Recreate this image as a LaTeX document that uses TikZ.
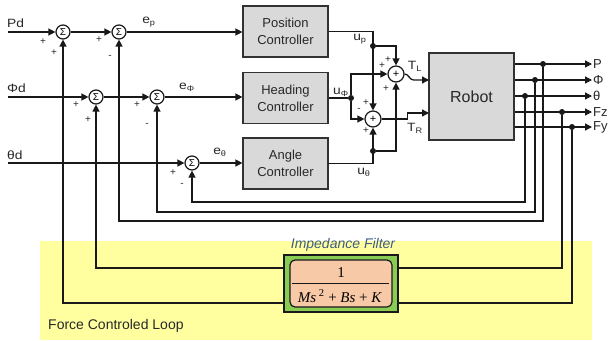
\documentclass[tikz,border=0pt]{standalone}
\usepackage{fontspec}
\setmainfont{Liberation Sans}
\newfontfamily\serifff{Liberation Serif}
\usetikzlibrary{arrows.meta,calc}
\definecolor{linec}{RGB}{25,25,25}
\definecolor{boxb}{RGB}{50,50,50}
\definecolor{boxf}{RGB}{217,217,217}
\definecolor{txt}{RGB}{40,40,40}
\definecolor{ylw}{RGB}{255,255,160}
\definecolor{grn}{RGB}{136,204,84}
\definecolor{org}{RGB}{248,201,166}
\definecolor{blu}{RGB}{62,92,132}
\newcommand\widetxt[1]{\scalebox{1.15}[1]{#1}}
\begin{document}
\begin{tikzpicture}[x=1pt,y=-1pt,
  line/.style={draw=linec,line width=1.3pt},
  arr/.style={line,-{Triangle[length=7pt,width=7pt]}},
  sum/.style={circle,draw=linec,line width=1.2pt,fill=white,minimum size=14pt,inner sep=0pt,font=\fontsize{10}{10}\selectfont},
  ctrl/.style={draw=boxb,line width=1.2pt,fill=boxf,minimum width=85pt,minimum height=51pt,align=center,font=\fontsize{13}{17}\selectfont,text=txt},
  sg/.style={font=\fontsize{10}{10}\selectfont,inner sep=0pt,text=txt},
  lbl/.style={font=\fontsize{12}{12}\selectfont,inner sep=0pt,text=txt},
  dot/.style={circle,fill=linec,minimum size=6pt,inner sep=0pt},
]
\fill[white] (0,0) rectangle (610,340);
\useasboundingbox (0,0) rectangle (610,340);
\fill[ylw] (40,241) rectangle (592,340);

% sums
\node[sum] (s1) at (63,32) {Σ};
\node[sum] (s2) at (119,32) {Σ};
\node[sum] (s3) at (96,97) {Σ};
\node[sum] (s4) at (157,97) {Σ};
\node[sum] (s5) at (192,163) {Σ};
\node[sum,minimum size=16pt,font=\fontsize{11}{11}\selectfont] (s6) at (396,74) {+};
\node[sum,minimum size=16pt,font=\fontsize{11}{11}\selectfont] (s7) at (373,119) {+};

% blocks
\node[ctrl] (pc) at (285.5,31.5) {Position\\Controller};
\node[ctrl] (hc) at (285.5,98) {Heading\\Controller};
\node[ctrl] (ac) at (285.5,163.5) {Angle\\Controller};
\node[draw=boxb,fill=boxf,line width=1.2pt,minimum width=85pt,minimum height=87pt,font=\fontsize{16}{16}\selectfont,text=txt] (rb) at (471.5,96.5) {Robot};

% input coordinates
\coordinate (iP) at (8,32);
\coordinate (iF) at (8,97);
\coordinate (iT) at (8,163);
\node[lbl,anchor=west] (lPd) at (7,23) {\widetxt{Pd}};
\node[lbl,anchor=west] (lFd) at (7,88) {\widetxt{Φd}};
\node[lbl,anchor=west] (lTd) at (7,155) {\widetxt{θd}};

% forward paths
\draw[arr] (iP) -- (s1.west);
\draw[arr] (s1.east) -- (s2.west);
\draw[arr] (s2.east) -- (s2 -| pc.west);
\draw[arr] (iF) -- (s3.west);
\draw[arr] (s3.east) -- (s4.west);
\draw[arr] (s4.east) -- (s4 -| hc.west);
\draw[arr] (iT) -- (s5.west);
\draw[arr] (s5.east) -- (s5 -| ac.west);

\node[lbl] (ep) at (149,22) {\widetxt{e\textsubscript{p}}};
\node[lbl] (ef) at (187,87) {\widetxt{e\textsubscript{Φ}}};
\node[lbl] (et) at (220,152) {\widetxt{e\textsubscript{θ}}};

% controller outputs
\node[dot] (dp) at (373,46) {};
\node[dot] (dh) at (351,98) {};
\node[dot] (dt) at (373,151) {};
\draw[arr] (pc.east) -| (s7.north);
\draw[arr] (dp) -| (s6.north);
\draw[line] (hc.east) -- (dh);
\draw[arr] (dh) |- (s6.west);
\draw[arr] (dh) |- (s7.west);
\draw[arr] (ac.east -| 328,163) -| (s7.south);
\draw[arr] (dt) -| (s6.south);

\node[lbl] (lup) at (360,39) {\widetxt{u\textsubscript{p}}};
\node[lbl] (luf) at (341,92) {\widetxt{u\textsubscript{Φ}}};
\node[lbl] (lut) at (364,172) {\widetxt{u\textsubscript{θ}}};

% torques
\coordinate (tl) at (429,80);
\coordinate (tr) at (429,113);
\draw[arr] (s6.east) to[out=0,in=180] ($(s6.east)+(9,6)$) -- (tl);
\draw[arr] (s7.east) -- ++(26,0) |- (tr);
\node[lbl] (lTL) at (415,66) {\widetxt{T\textsubscript{L}}};
\node[lbl] (lTR) at (415,128) {\widetxt{T\textsubscript{R}}};

% signs
\node[sg] at (43,42) {+};
\node[sg] at (54,53) {+};
\node[sg] at (99,40) {+};
\node[sg] at (110,57) {-};
\node[sg] at (76,105) {+};
\node[sg] at (88,120) {+};
\node[sg] at (137,105) {+};
\node[sg] at (147,125) {-};
\node[sg] at (173,173) {+};
\node[sg] at (182,185) {-};
\node[sg] at (382,66) {+};
\node[sg] at (388,60) {+};
\node[sg] at (386,89) {+};
\node[sg] at (366,103) {+};
\node[sg] at (359,110) {-};
\node[sg] at (366,131) {+};

% robot outputs
\coordinate (oP) at (592,64);
\coordinate (oF) at (592,80);
\coordinate (oT) at (592,96);
\coordinate (oZ) at (592,112);
\coordinate (oY) at (592,127);
\draw[arr] (rb.east |- oP) -- (oP);
\draw[arr] (rb.east |- oF) -- (oF);
\draw[arr] (rb.east |- oT) -- (oT);
\draw[arr] (rb.east |- oZ) -- (oZ);
\draw[arr] (rb.east |- oY) -- (oY);
\node[lbl,anchor=west,font=\fontsize{13}{13}\selectfont] at ($(oP)+(1,0)$) {P};
\node[lbl,anchor=west,font=\fontsize{13}{13}\selectfont] at ($(oF)+(1,0)$) {Φ};
\node[lbl,anchor=west,font=\fontsize{13}{13}\selectfont] at ($(oT)+(1,0)$) {θ};
\node[lbl,anchor=west,font=\fontsize{13}{13}\selectfont] at ($(oZ)+(1,0)$) {Fz};
\node[lbl,anchor=west,font=\fontsize{13}{13}\selectfont] at ($(oY)+(1,0)$) {Fy};

\node[dot] (dP) at (543,64) {};
\node[dot] (dF) at (535,80) {};
\node[dot] (dT) at (525,96) {};
\node[dot] (dZ) at (562,112) {};
\node[dot] (dY) at (572,127) {};

% feedback
\coordinate (r1) at (0,202);
\coordinate (r2) at (0,212);
\coordinate (r3) at (0,221);
\coordinate (r4) at (0,268);
\coordinate (r5) at (0,303);
\draw[arr] (dT) |- (s5 |- r1) -- (s5.south);
\draw[arr] (dF) |- (s4 |- r2) -- (s4.south);
\draw[arr] (dP) |- (s2 |- r3) -- (s2.south);
\draw[arr] (dZ) |- (s3 |- r4) -- (s3.south);
\draw[arr] (dY) |- (s1 |- r5) -- (s1.south);

% impedance filter
\node[draw=linec,line width=1.2pt,fill=grn,minimum width=114pt,minimum height=57pt] (G) at (341,283.5) {};
\node[draw=linec,line width=1.2pt,fill=org,rounded corners=5pt,minimum width=102pt,minimum height=47pt,inner sep=0pt] (F) at (341,283.5) {};
\node[font=\serifff\fontsize{15}{15}\selectfont,inner sep=0pt] (num) at (341,273) {1};
\node[font=\serifff\fontsize{15}{15}\selectfont,inner sep=0pt] (den) at (340,296) {\textit{Ms}\,\textsuperscript{2} + \textit{Bs} + \textit{K}};
\draw[line width=0.8pt,draw=linec] ($(F.west)+(3,0)$) -- ($(F.east)+(-4,0)$);
\node[font=\itshape\fontsize{14}{14}\selectfont,text=blu] (ttl) at (343,245) {Impedance Filter};
\node[lbl,anchor=west,font=\fontsize{14}{14}\selectfont] (fcl) at (48,326) {Force Controled Loop};
\end{tikzpicture}
\end{document}
